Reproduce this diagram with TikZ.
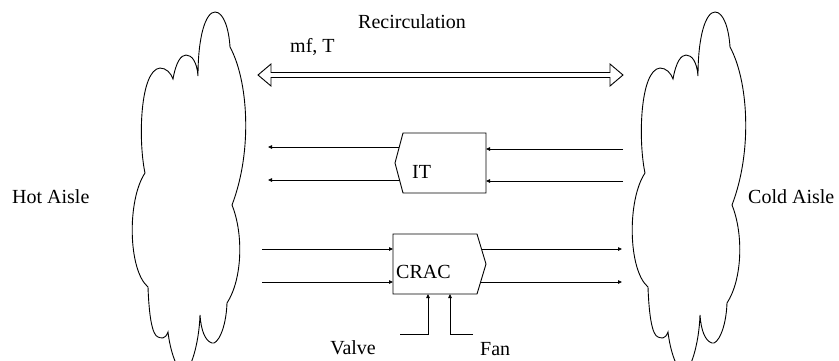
\documentclass[tikz,border=0pt]{standalone}
\usepackage{fontspec}
\setmainfont{Liberation Serif}
\usetikzlibrary{arrows.meta}
\begin{document}
\begin{tikzpicture}[x=1pt,y=-1pt,
  lbl/.style={inner sep=0pt, font=\fontsize{20}{24}\selectfont},
  flow/.style={line width=0.8pt, -{Triangle[length=4pt,width=3.5pt]}},
  outline/.style={line width=0.9pt, line join=miter},
]
\useasboundingbox (0,0) rectangle (839,360);
\clip (0,0) rectangle (839,360);
% clouds
\foreach \dx in {0,500} {
  \draw[outline, shift={(\dx,0)}]
    (173,79) .. controls (176,62) and (181,55) .. (186,55)
    .. controls (192,55) and (197,62) .. (198,76)
    .. controls (198,35) and (206,12) .. (215,12)
    .. controls (224,12) and (229,30) .. (230,47)
    .. controls (248,80) and (253,150) .. (232,205)
    .. controls (244,235) and (242,280) .. (227,303)
    .. controls (226,330) and (217,345) .. (212,343)
    .. controls (205,341) and (201,330) .. (200,315)
    .. controls (199,345) and (190,372) .. (184,372)
    .. controls (177,372) and (170,350) .. (168,332)
    .. controls (165,340) and (161,338) .. (158,337)
    .. controls (152,335) and (149,315) .. (148,287)
    .. controls (128,270) and (127,200) .. (145,173)
    .. controls (138,140) and (140,70) .. (160,68)
    .. controls (166,68) and (171,73) .. (173,79) -- cycle;
}
% labels
\node[lbl, anchor=base west] (hot) at (12,203) {Hot Aisle};
\node[lbl, anchor=base west] (cold) at (748,203) {Cold Aisle};
\node[lbl, anchor=base west] (recirc) at (358,28) {Recirculation};
\node[lbl, anchor=base west] (mf) at (290,52) {mf, T};
\node[lbl, anchor=base west] (itl) at (412,178) {IT};
\node[lbl, anchor=base west] (cracl) at (396,278) {CRAC};
\node[lbl, anchor=base east] (valve) at (376,354) {Valve};
\node[lbl, anchor=base west] (fan) at (480,355) {Fan};
% recirculation double arrow
\draw[outline] (258,75) coordinate (recL) -- (271,64) -- (271,72.5) -- (610,72.5) -- (610,64)
  -- (623,75) coordinate (recR) -- (610,86) -- (610,77.5) -- (271,77.5) -- (271,86) -- cycle;
% IT box
\draw[outline] (403,133) coordinate (it-nw) -- (486,133) coordinate (it-ne)
  -- (486,193) coordinate (it-se) -- (403,193) coordinate (it-sw)
  -- (395,163) coordinate (it-tip) -- cycle;
% CRAC box
\draw[outline] (393,234) coordinate (crac-nw) -- (477,234) coordinate (crac-ne)
  -- (486,264) coordinate (crac-tip) -- (477,294) coordinate (crac-se)
  -- (393,294) coordinate (crac-sw) -- cycle;
% IT connectors
\coordinate (itOut1) at (268,147);
\coordinate (itOut2) at (268,180);
\coordinate (itS1) at (399.3,147);
\coordinate (itS2) at (399.5,180);
\coordinate (itIn1) at (623,149);
\coordinate (itIn2) at (623,181);
\draw[flow] (itS1) -- (itOut1);
\draw[flow] (itS2) -- (itOut2);
\draw[flow] (itIn1) -- (itIn1 -| it-ne);
\draw[flow] (itIn2) -- (itIn2 -| it-ne);
% CRAC connectors
\coordinate (crIn1) at (262,249);
\coordinate (crIn2) at (262,282);
\coordinate (crS1) at (481.5,249);
\coordinate (crS2) at (480.6,282);
\coordinate (crOut1) at (622,249);
\coordinate (crOut2) at (622,282);
\draw[flow] (crIn1) -- (crIn1 -| crac-nw);
\draw[flow] (crIn2) -- (crIn2 -| crac-nw);
\draw[flow] (crS1) -- (crOut1);
\draw[flow] (crS2) -- (crOut2);
% valve and fan
\coordinate (valveEnd) at (400,334);
\coordinate (valveUp) at (428,334);
\coordinate (fanEnd) at (473,334);
\coordinate (fanUp) at (450,334);
\draw[flow] (valveEnd) -- (valveUp) -- (valveUp |- crac-sw);
\draw[flow] (fanEnd) -- (fanUp) -- (fanUp |- crac-sw);
\end{tikzpicture}
\end{document}
